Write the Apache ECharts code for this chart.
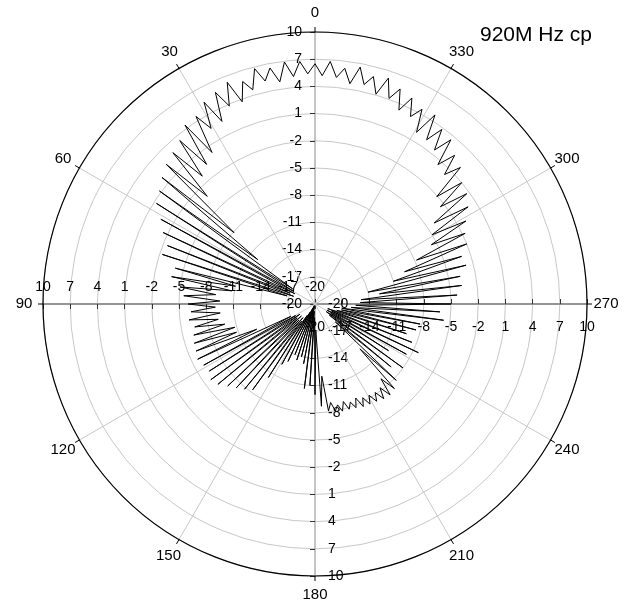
<!DOCTYPE html>
<html>
<head>
<meta charset="utf-8">
<script src="https://cdn.jsdelivr.net/npm/echarts@6/dist/echarts.min.js"></script>
<style>
  html, body { margin: 0; padding: 0; background: #ffffff; }
  #chart { width: 643px; height: 612px; }
</style>
</head>
<body>
<div id="chart"></div>
<script>
// Radiation pattern, 920 MHz, circular polarisation (dB)
const chartTitle = '920M Hz cp';

// Radial axis ticks (dB) and angle axis ticks (deg)
const radialTicks = [-20, -17, -14, -11, -8, -5, -2, 1, 4, 7, 10];
const angleTicks = [0, 30, 60, 90, 120, 150, 180, 210, 240, 270, 300, 330];

// Measurement step between samples (deg), first sample at 0 deg
const sampleStepDeg = 1.8;

// Measured gain per sample (dB), 200 samples round the full turn
const gainDb = [
   6.5,   5.4,   6.8,   5.2,   6.9,   4.8,   6.5,   5.2,   6.8,   4.6,
   5.8,   3.7,   6.3,   3.8,   5.8,   2.6,   5.4,   2.5,   4.5,   0.2,
   4.4,  -0.5,   3.4,  -1.2,   2.9,  -3.2,   2.5,  -8.1,   1.9, -12.0,
   1.2, -17.0,   0.7, -17.3,  -0.6, -17.5,  -1.5, -17.0,  -2.5, -17.5,
  -2.3, -16.8,  -4.1, -11.0,  -3.9, -10.7,  -5.0,  -9.0,  -5.5,  -9.5,
  -6.0,  -9.0,  -6.3,  -9.5,  -6.0,  -9.2,  -6.5,  -9.8,  -6.2, -10.8,
  -6.0, -10.8,  -5.9, -13.0,  -5.7, -17.0,  -6.0, -17.5,  -6.2, -18.0,
  -5.8, -17.5,  -6.1, -18.0,  -6.8, -17.5,  -7.3, -18.0,  -7.8, -17.6,
  -8.3, -18.5, -10.4, -19.0, -12.4, -19.5, -13.0, -19.8, -14.0, -19.5,
 -13.5, -19.5, -14.0, -19.8, -13.3, -19.0, -10.6, -19.2, -11.0, -18.5,
 -10.0, -17.0,  -8.7, -12.0,  -8.1,  -9.0,  -8.0,  -8.6,  -7.8,  -8.8,
  -7.8,  -8.5,  -7.7,  -8.7,  -7.5,  -8.4,  -7.4,  -8.3,  -7.3,  -8.2,
  -7.1,  -8.3,  -7.0,  -9.0,  -7.2, -13.0,  -7.7, -17.0,  -9.1, -18.0,
  -8.0, -18.5, -10.4, -18.0,  -8.5, -18.5,  -7.4, -18.0,  -8.5, -18.5,
  -9.4, -17.5,  -8.5, -17.0,  -8.2, -17.0,  -5.7, -16.0,  -6.2, -15.5,
  -5.0, -15.0,  -4.3, -14.9,  -3.7, -12.8,  -3.7, -14.0,  -2.8, -11.0,
  -3.0,  -9.5,  -2.0,  -7.8,  -1.7,  -5.6,  -1.0,  -5.0,   0.0,  -4.1,
   0.7,  -2.5,   1.0,  -2.1,   2.0,   0.2,   2.5,   0.5,   3.5,   1.5,
   3.8,   1.9,   4.7,   2.0,   4.5,   3.2,   5.1,   3.3,   5.5,   4.1,
   6.2,   4.1,   5.9,   4.8,   6.6,   4.6,   6.2,   5.1,   6.8,   5.2
];

// ---- layout ----
const CENTER = [315, 304];
const RADIUS = 272;
const FONT = '"Liberation Sans", Arial, Helvetica, sans-serif';
const GRID_COLOR = '#c8c8c8';

const rMin = radialTicks[0];
const rMax = radialTicks[radialTicks.length - 1];
const rStep = radialTicks[1] - radialTicks[0];
const aStep = angleTicks[1] - angleTicks[0];

// Points as [radius, angle]; the trace is closed back onto its first sample at 360 deg
const tracePoints = gainDb.map((v, i) => [v, i * sampleStepDeg]);
tracePoints.push([gainDb[0], 360]);

// Angle labels: centred on a circle just outside the rim.
// Horizontal offset is made with padding, vertical offset with a taller line box.
const ANGLE_FONT = 15, ANGLE_LINE_H = 16, ANGLE_MARGIN = -4;
const LABEL_RX = 291, LABEL_RY = 291;
const angleRich = {};
angleTicks.forEach(a => {
  const rad = a * Math.PI / 180;
  const sx = Math.sin(rad), cy = Math.cos(rad);
  const anchorR = RADIUS + ANGLE_MARGIN;
  const w = String(a).length * ANGLE_FONT * 0.556;
  const h = ANGLE_LINE_H;
  const hCentred = Math.abs(sx) * anchorR / RADIUS < 0.3;
  const vCentred = Math.abs(cy) * anchorR / RADIUS < 0.3;
  const padH = hCentred ? 0 : Math.max(0, (LABEL_RX - anchorR) * Math.abs(sx) - w / 2);
  const padV = vCentred ? 0 : Math.max(0, (LABEL_RY - anchorR) * Math.abs(cy) - h / 2);
  angleRich['a' + a] = {
    fontSize: ANGLE_FONT,
    lineHeight: ANGLE_LINE_H + 2 * padV,
    fontFamily: FONT,
    color: '#000',
    padding: [0, (!hCentred && sx > 0) ? padH : 0, 0, (!hCentred && sx < 0) ? padH : 0]
  };
});

// Spokes every 30 deg, the four cardinal ones are drawn by the radius axes instead
const spokeColors = angleTicks.map(a => (a % 90 === 0) ? 'rgba(0,0,0,0)' : GRID_COLOR);

// One radius axis per direction: up, left, down, right
const sides = [
  { start: 90,  lineColor: '#b0b0b0', lineWidth: 1.5, labelMargin: 13,  tickLen: 5 },
  { start: 180, lineColor: '#959595', lineWidth: 2,   labelMargin: -24, tickLen: 5 },
  { start: 270, lineColor: '#b0b0b0', lineWidth: 1.5, labelMargin: 13,  tickLen: -5 },
  { start: 0,   lineColor: '#959595', lineWidth: 2,   labelMargin: -30, tickLen: 5 }
];

const polar = sides.map(() => ({ center: CENTER, radius: RADIUS }));

const angleAxis = sides.map((s, i) => {
  const base = {
    polarIndex: i,
    type: 'value',
    min: 0,
    max: 360,
    interval: aStep,
    startAngle: s.start,
    clockwise: false
  };
  if (i !== 0) {
    return Object.assign(base, {
      axisLine: { show: false }, axisTick: { show: false },
      axisLabel: { show: false }, splitLine: { show: false }
    });
  }
  return Object.assign(base, {
    z: 1,
    axisLine: { show: true, lineStyle: { color: '#000', width: 1.2 } },
    axisTick: { show: true, length: 5, lineStyle: { color: '#000', width: 1 } },
    splitLine: { show: true, lineStyle: { color: spokeColors, width: 1 } },
    axisLabel: {
      margin: ANGLE_MARGIN,
      formatter: v => (v >= 360 ? '' : '{a' + v + '|' + v + '}'),
      rich: angleRich
    }
  });
});

const radiusAxis = sides.map((s, i) => ({
  polarIndex: i,
  type: 'value',
  min: rMin,
  max: rMax,
  interval: rStep,
  z: 0,
  axisLine: { show: true, lineStyle: { color: s.lineColor, width: s.lineWidth } },
  axisTick: { show: true, length: s.tickLen, lineStyle: { color: '#333', width: 1 } },
  splitLine: i === 0
    ? { show: true, lineStyle: { color: GRID_COLOR, width: 1 } }
    : { show: false },
  axisLabel: {
    show: true,
    margin: s.labelMargin,
    fontSize: 14,
    fontFamily: FONT,
    color: '#000',
    showMinLabel: true,
    showMaxLabel: true,
    hideOverlap: false
  }
}));

const chart = echarts.init(document.getElementById('chart'), null, { renderer: 'canvas' });
chart.setOption({
  animation: false,
  backgroundColor: '#ffffff',
  title: {
    text: chartTitle,
    left: 480,
    top: 25,
    padding: 0,
    textStyle: { fontSize: 21, fontWeight: 'normal', color: '#000', fontFamily: FONT }
  },
  polar: polar,
  angleAxis: angleAxis,
  radiusAxis: radiusAxis,
  series: [{
    type: 'line',
    coordinateSystem: 'polar',
    polarIndex: 0,
    data: tracePoints,
    showSymbol: false,
    smooth: false,
    z: 5,
    lineStyle: { color: '#000', width: 1.0 }
  }]
});
</script>
</body>
</html>
